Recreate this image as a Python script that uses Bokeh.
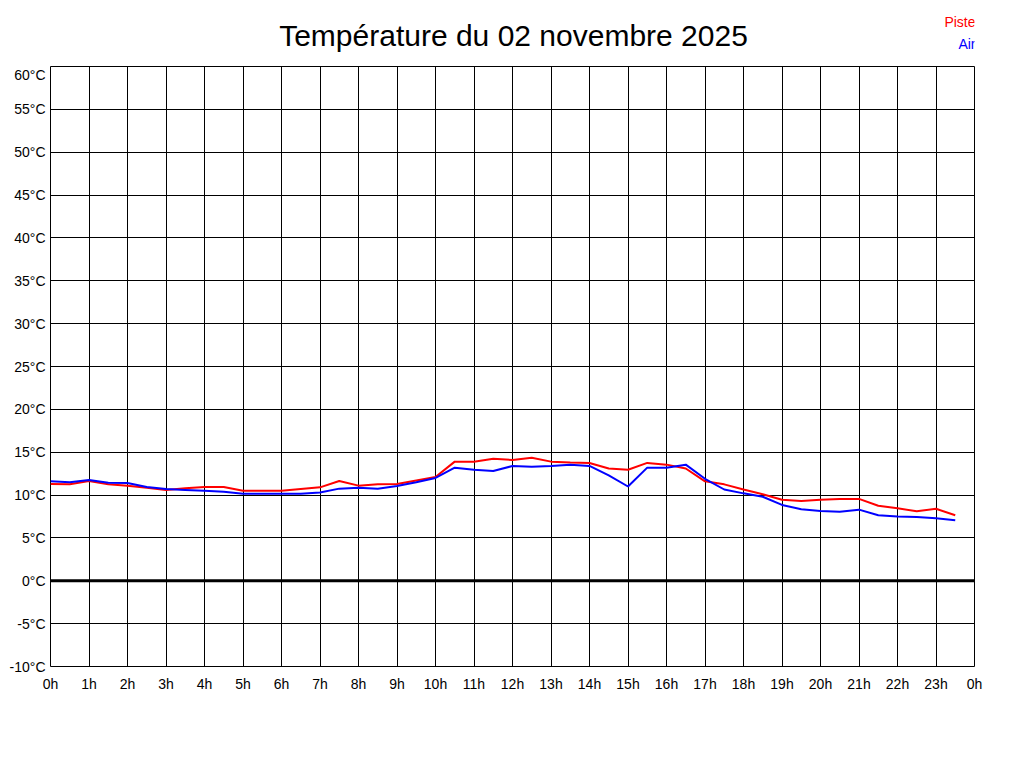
from bokeh.plotting import figure
from bokeh.models import FixedTicker, Span, Range1d, ColumnDataSource
from bokeh.layouts import column
from bokeh.core.properties import value
from bokeh.embed import file_html
from bokeh.resources import INLINE

title_text = "Température du 02 novembre 2025"

hours = [0, 0.5, 1, 1.5, 2, 2.5, 3, 3.5, 4, 4.5, 5, 5.5, 6, 6.5, 7, 7.5,
         8, 8.5, 9, 9.5, 10, 10.5, 11, 11.5, 12, 12.5, 13, 13.5, 14, 14.5, 15, 15.5,
         16, 16.5, 17, 17.5, 18, 18.5, 19, 19.5, 20, 20.5, 21, 21.5, 22, 22.5, 23, 23.5]

piste = [11.3, 11.25, 11.65, 11.25, 11.1, 10.85, 10.6, 10.8, 10.95, 10.95, 10.5, 10.5,
         10.5, 10.7, 10.9, 11.65, 11.1, 11.25, 11.3, 11.7, 12.1, 13.9, 13.9, 14.25,
         14.1, 14.35, 13.9, 13.8, 13.75, 13.1, 12.95, 13.75, 13.55, 13.1, 11.6, 11.25,
         10.65, 10.1, 9.45, 9.3, 9.45, 9.55, 9.55, 8.75, 8.45, 8.1, 8.4, 7.65]

air = [11.6, 11.5, 11.75, 11.45, 11.4, 10.95, 10.7, 10.6, 10.5, 10.4, 10.15, 10.15,
       10.15, 10.15, 10.3, 10.75, 10.85, 10.75, 11.05, 11.5, 12.0, 13.2, 12.95, 12.8,
       13.4, 13.3, 13.4, 13.55, 13.4, 12.3, 11.0, 13.2, 13.2, 13.55, 11.9, 10.65,
       10.2, 9.8, 8.85, 8.35, 8.15, 8.05, 8.3, 7.65, 7.5, 7.45, 7.3, 7.05]

x_ticks = list(range(0, 25))
x_tick_labels = ["0h", "1h", "2h", "3h", "4h", "5h", "6h", "7h", "8h", "9h", "10h", "11h",
                 "12h", "13h", "14h", "15h", "16h", "17h", "18h", "19h", "20h", "21h",
                 "22h", "23h", "0h"]
y_ticks = [-10, -5, 0, 5, 10, 15, 20, 25, 30, 35, 40, 45, 50, 55, 60]
y_tick_labels = ["-10°C", "-5°C", "0°C", "5°C", "10°C", "15°C", "20°C", "25°C", "30°C",
                 "35°C", "40°C", "45°C", "50°C", "55°C", "60°C"]

series_names = ["Piste", "Air"]
series_colors = ["#ff0000", "#0000ff"]

FONT = "Liberation Sans"
W = 1008
HEADER_H = 66
LEFT, RIGHT = 50, 34

# ---- header (title + colour-coded legend); data units == canvas pixels ----
header = figure(width=W, height=HEADER_H, output_backend="svg", toolbar_location=None,
                x_range=Range1d(LEFT, W - RIGHT), y_range=Range1d(HEADER_H, 0),
                x_axis_type=None, y_axis_type=None, min_border=0,
                min_border_left=LEFT, min_border_right=RIGHT)
header.outline_line_color = None
header.grid.visible = False
header.background_fill_color = "white"
header.border_fill_color = "white"

header.text(x=[513], y=[35], text=[title_text], text_align="center", text_baseline="middle",
            text_font=value(FONT), text_font_size="30px", text_color="black")
legend_src = ColumnDataSource(dict(x=[975, 975], y=[21, 43], text=series_names,
                                   color=series_colors))
header.text(x="x", y="y", text="text", text_color="color", source=legend_src,
            text_align="right", text_baseline="middle",
            text_font=value(FONT), text_font_size="14px")

# ---- main chart ----
p = figure(width=W, height=752 - HEADER_H, output_backend="svg", toolbar_location=None,
           x_range=Range1d(0, 24), y_range=Range1d(-10, 60),
           min_border_left=LEFT, min_border_right=RIGHT, min_border_top=0, min_border_bottom=86)
p.background_fill_color = "white"
p.border_fill_color = "white"
p.outline_line_color = "black"
p.outline_line_alpha = 1.0
p.outline_line_width = 1

for ax, ticks, labels in ((p.xaxis[0], x_ticks, x_tick_labels), (p.yaxis[0], y_ticks, y_tick_labels)):
    ax.ticker = FixedTicker(ticks=ticks)
    ax.major_label_overrides = {t: l for t, l in zip(ticks, labels)}
    ax.axis_line_color = None
    ax.major_tick_line_color = None
    ax.minor_tick_line_color = None
    ax.major_tick_in = 0
    ax.major_tick_out = 0
    ax.major_label_text_font = FONT
    ax.major_label_text_font_size = "14px"
    ax.major_label_text_color = "black"

p.xaxis.major_label_standoff = 9
p.yaxis.major_label_standoff = 5

for g in (p.xgrid[0], p.ygrid[0]):
    g.grid_line_color = "black"
    g.grid_line_alpha = 1.0
    g.grid_line_width = 1
p.xgrid.ticker = FixedTicker(ticks=x_ticks)
p.ygrid.ticker = FixedTicker(ticks=y_ticks)

p.add_layout(Span(location=0, dimension="width", line_color="black", line_width=3))

p.line(hours, piste, line_color=series_colors[0], line_width=2)
p.line(hours, air, line_color=series_colors[1], line_width=2)

layout = column(header, p, spacing=0)
open("out.html", "w").write(file_html(layout, INLINE))
